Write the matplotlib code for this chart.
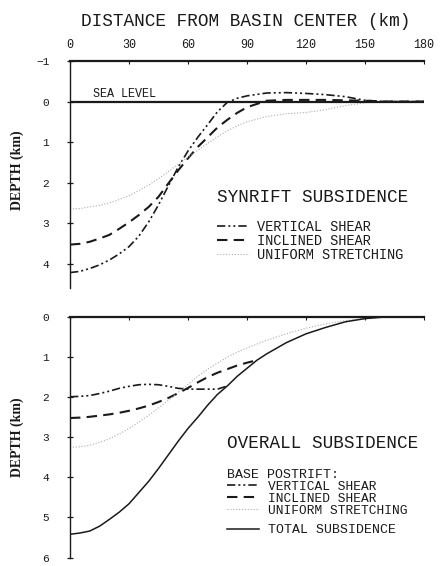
import matplotlib
matplotlib.use("Agg")
import matplotlib.pyplot as plt
import numpy as np

# ---------------- data ----------------
dist_ticks = [0, 30, 60, 90, 120, 150, 180]
top_depth_ticks = [-1, 0, 1, 2, 3, 4]
bot_depth_ticks = [0, 1, 2, 3, 4, 5, 6]

# Synrift subsidence (top panel)
syn_x = [0, 5, 10, 15, 20, 25, 30, 35, 40, 45, 50, 55, 60, 65, 70, 75, 80, 85, 90,
         100, 110, 120, 130, 140, 150, 160, 180]
syn_vertical = [4.22, 4.19, 4.12, 4.03, 3.91, 3.76, 3.58, 3.32, 2.97, 2.55, 2.08, 1.62,
                1.22, 0.88, 0.57, 0.25, 0.02, -0.08, -0.14, -0.21, -0.22, -0.20, -0.17,
                -0.12, -0.03, 0.0, 0.0]
syn_inclined = [3.53, 3.51, 3.46, 3.38, 3.29, 3.14, 2.98, 2.80, 2.60, 2.35, 2.02, 1.70,
                1.40, 1.12, 0.88, 0.64, 0.45, 0.28, 0.14, -0.02, -0.04, -0.04, -0.04,
                -0.03, -0.02, 0.0, 0.0]
syn_uniform = [2.65, 2.64, 2.60, 2.56, 2.50, 2.42, 2.32, 2.20, 2.06, 1.90, 1.73, 1.55,
               1.37, 1.20, 1.03, 0.87, 0.72, 0.60, 0.50, 0.37, 0.30, 0.27, 0.20, 0.10,
               0.03, 0.0, 0.0]

# Overall subsidence (bottom panel)
tot_x = [0, 5, 10, 15, 20, 25, 30, 35, 40, 45, 50, 55, 60, 65, 70, 75, 80, 85, 90, 95,
         100, 110, 120, 130, 140, 150, 160, 180]
tot_depth = [5.42, 5.39, 5.34, 5.22, 5.05, 4.87, 4.66, 4.38, 4.10, 3.78, 3.44, 3.10,
             2.78, 2.50, 2.20, 1.93, 1.72, 1.48, 1.28, 1.08, 0.92, 0.64, 0.42, 0.26,
             0.12, 0.04, 0.0, 0.0]
post_vert_x = [0, 5, 10, 15, 20, 25, 30, 35, 40, 45, 50, 55, 60, 65, 70, 75, 80]
post_vertical = [1.99, 1.98, 1.96, 1.91, 1.85, 1.78, 1.73, 1.69, 1.68, 1.69, 1.73, 1.78,
                 1.80, 1.80, 1.80, 1.80, 1.72]
post_incl_x = [0, 5, 10, 15, 20, 25, 30, 35, 40, 45, 50, 55, 60, 65, 70, 75, 80, 85, 90, 95]
post_inclined = [2.52, 2.51, 2.49, 2.46, 2.43, 2.39, 2.34, 2.28, 2.21, 2.12, 2.02, 1.90,
                 1.77, 1.63, 1.50, 1.39, 1.30, 1.21, 1.14, 1.08]
post_unif_x = [0, 5, 10, 15, 20, 25, 30, 35, 40, 45, 50, 55, 60, 65, 70, 75, 80, 85, 90,
               100, 110, 120, 130, 140, 150, 160]
post_uniform = [3.25, 3.24, 3.20, 3.13, 3.04, 2.92, 2.78, 2.62, 2.45, 2.27, 2.08, 1.88,
                1.68, 1.48, 1.30, 1.15, 1.00, 0.88, 0.77, 0.58, 0.42, 0.28, 0.17, 0.09,
                0.04, 0.0]

# ---------------- styling ----------------
W, H = 441, 566
DPI = 100
INK = "#1a1a1a"
MONO = "Liberation Mono"
plt.rcParams["font.family"] = MONO

fig = plt.figure(figsize=(W / DPI, H / DPI), dpi=DPI)
fig.patch.set_facecolor("white")

def px_axes(left, top, right, bottom):
    return fig.add_axes([left / W, 1 - bottom / H, (right - left) / W, (bottom - top) / H])

ax1 = px_axes(70, 61, 424, 288)
ax2 = px_axes(70, 317, 424, 557.5)

VS = dict(color=INK, lw=1.2, dashes=(5, 1.8, 1.2, 1.8, 1.2, 1.8))
IS = dict(color=INK, lw=1.5, dashes=(5, 3))
US = dict(color="#ababab", lw=0.8, dashes=(1.0, 1.6))
TS = dict(color=INK, lw=1.1)

for ax in (ax1, ax2):
    ax.set_xlim(0, 180)
    for s in ("right", "bottom"):
        ax.spines[s].set_visible(False)
    ax.spines["left"].set_color(INK)
    ax.spines["left"].set_linewidth(1.0)
    ax.spines["top"].set_color(INK)
    ax.spines["top"].set_linewidth(1.6)
    ax.set_xticks(dist_ticks)
    ax.tick_params(axis="y", direction="inout", length=4, width=0.9, colors=INK,
                   labelsize=8.0, pad=13)
    ax.tick_params(axis="x", top=True, bottom=False, labeltop=(ax is ax1),
                   labelbottom=False, direction="in", length=2.5, width=0.8,
                   colors=INK, labelsize=8.5, pad=7.5)

# ---- top panel ----
ax1.set_ylim(4.6, -1)
ax1.set_yticks(top_depth_ticks)
ax1.axhline(0, color=INK, lw=1.6, zorder=3)
l1, = ax1.plot(syn_x, syn_vertical, **VS)
l2, = ax1.plot(syn_x, syn_inclined, **IS)
l3, = ax1.plot(syn_x, syn_uniform, **US)
fig.text(93 / W, 1 - 94 / H, "SEA LEVEL", fontsize=8.5, color=INK,
         va="center", ha="left")
fig.text(217 / W, 1 - 197 / H, "SYNRIFT SUBSIDENCE", fontsize=12.7, color=INK,
         va="center", ha="left")
leg1 = ax1.legend([l1, l2, l3], ["VERTICAL SHEAR", "INCLINED SHEAR", "UNIFORM STRETCHING"],
                  loc="upper left", bbox_to_anchor=(217 / W, 1 - 220 / H),
                  bbox_transform=fig.transFigure, frameon=False, fontsize=9.8,
                  handlelength=2.35, handletextpad=0.6, borderpad=0, borderaxespad=0,
                  labelspacing=0.0)
for t in leg1.get_texts():
    t.set_color(INK)

fig.text(246 / W, 1 - 22 / H, "DISTANCE FROM BASIN CENTER (km)", fontsize=12.8,
         color=INK, ha="center", va="center")

# ---- bottom panel ----
ax2.set_ylim(6.0, 0)
ax2.set_yticks(bot_depth_ticks)
m1, = ax2.plot(post_vert_x, post_vertical, **VS)
m2, = ax2.plot(post_incl_x, post_inclined, **IS)
m3, = ax2.plot(post_unif_x, post_uniform, **US)
m4, = ax2.plot(tot_x, tot_depth, **TS)
fig.text(227 / W, 1 - 444 / H, "OVERALL SUBSIDENCE", fontsize=12.7, color=INK,
         va="center", ha="left")
leg2 = ax2.legend([m1, m2, m3], ["VERTICAL SHEAR", "INCLINED SHEAR", "UNIFORM STRETCHING"],
                  title="BASE POSTRIFT:", alignment="left",
                  loc="upper left", bbox_to_anchor=(227 / W, 1 - 468.5 / H),
                  bbox_transform=fig.transFigure, frameon=False, fontsize=9.3,
                  title_fontsize=9.5, handlelength=2.5, handletextpad=0.65, borderpad=0,
                  borderaxespad=0, labelspacing=0.0)
leg2.get_title().set_color(INK)
for t in leg2.get_texts():
    t.set_color(INK)
ax2.add_artist(leg2)
leg3 = ax2.legend([m4], ["TOTAL SUBSIDENCE"], loc="upper left",
                  bbox_to_anchor=(227 / W, 1 - 524 / H), bbox_transform=fig.transFigure,
                  frameon=False, fontsize=9.5, handlelength=2.45, handletextpad=0.65,
                  borderpad=0, borderaxespad=0)
for t in leg3.get_texts():
    t.set_color(INK)

# ---- y labels ----
for yc in (170, 437):
    fig.text(17 / W, 1 - yc / H, "DEPTH (km)", rotation=90, fontsize=10,
             family="Liberation Serif", fontweight="bold", color=INK,
             ha="center", va="center")

fig.savefig("out.png", dpi=DPI, facecolor="white")
